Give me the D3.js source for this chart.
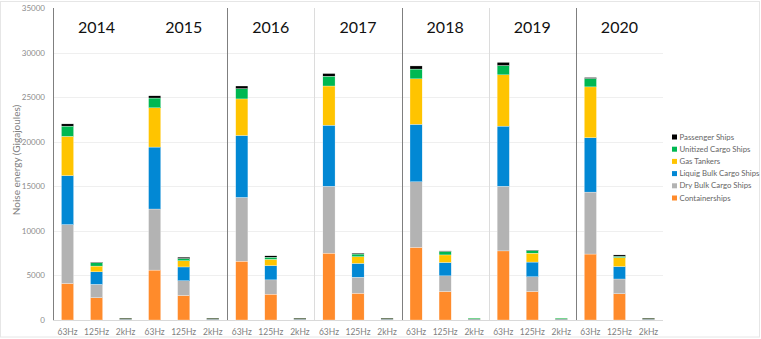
<!DOCTYPE html>
<html lang="en">
<head>
<meta charset="UTF-8">
<title>Noise energy by ship type</title>
<script src="https://d3js.org/d3.v7.min.js"></script>
<style>
  body { margin: 0; background: #fff; }
  svg { display: block; font-family: Lato, "Open Sans", sans-serif; }
</style>
</head>
<body>
<svg width="761" height="339"></svg>
<script>
// data (Gigajoules)
const years = ["2014", "2015", "2016", "2017", "2018", "2019", "2020"];
const bands = ["63Hz", "125Hz", "2kHz"];
const series = ["Containerships", "Dry Bulk Cargo Ships", "Liquig Bulk Cargo Ships", "Gas Tankers", "Unitized Cargo Ships", "Passenger Ships"];
const colors = ["#ff8b2b", "#b3b3b3", "#0288d4", "#ffc400", "#00b852", "#000000"];

// one value per year for each band, order as in `years`
const containerships = {
  "63Hz":  [4100, 5600, 6600, 7500, 8150, 7750, 7400],
  "125Hz": [2500, 2750, 2900, 3000, 3200, 3200, 2950],
  "2kHz":  [40, 40, 40, 40, 40, 40, 40]
};
const dryBulk = {
  "63Hz":  [6600, 6850, 7150, 7500, 7350, 7250, 6950],
  "125Hz": [1500, 1650, 1600, 1800, 1750, 1650, 1650],
  "2kHz":  [40, 40, 40, 40, 40, 40, 40]
};
const liquidBulk = {
  "63Hz":  [5500, 6950, 6950, 6850, 6450, 6750, 6100],
  "125Hz": [1400, 1550, 1600, 1550, 1500, 1650, 1400],
  "2kHz":  [30, 30, 30, 30, 30, 30, 30]
};
const gasTankers = {
  "63Hz":  [4400, 4400, 4100, 4400, 5100, 5750, 5700],
  "125Hz": [650, 700, 700, 750, 850, 1000, 1000],
  "2kHz":  [20, 20, 20, 20, 20, 20, 20]
};
const unitized = {
  "63Hz":  [1150, 1100, 1150, 1100, 1100, 1050, 950],
  "125Hz": [380, 250, 250, 300, 400, 300, 150],
  "2kHz":  [20, 20, 20, 20, 60, 60, 20]
};
const passenger = {
  "63Hz":  [250, 250, 300, 300, 350, 350, 100],
  "125Hz": [50, 150, 150, 100, 50, 50, 150],
  "2kHz":  [50, 50, 50, 50, 0, 0, 50]
};
const yTicks = [0, 5000, 10000, 15000, 20000, 25000, 30000, 35000];

const seriesData = [containerships, dryBulk, liquidBulk, gasTankers, unitized, passenger];

// flat table: one row per year/band
const rows = [];
years.forEach((yr, i) => {
  bands.forEach(b => {
    const r = { key: yr + "-" + b, year: yr, band: b };
    series.forEach((s, k) => { r[s] = seriesData[k][b][i]; });
    rows.push(r);
  });
});

const svg = d3.select("svg");
const plotL = 53, plotR = 663, plotT = 8, plotB = 320;

const x = d3.scaleBand().domain(rows.map(d => d.key)).range([plotL, plotR])
  .paddingInner(0.58).paddingOuter(0.29);
const xYear = d3.scaleBand().domain(years).range([plotL, plotR]);
const y = d3.scaleLinear().domain([0, 35000]).range([plotB, plotT]);

// chart frame
svg.append("rect")
  .attr("x", 0.5).attr("y", 1.5).attr("width", 759).attr("height", 335.5)
  .attr("fill", "none").attr("stroke", "#e6e6e6");

// gridlines
svg.append("g").selectAll("line")
  .data(yTicks.filter(t => t > 0 && t < 35000))
  .join("line")
  .attr("x1", plotL).attr("x2", plotR)
  .attr("y1", d => Math.round(y(d)) + 0.5).attr("y2", d => Math.round(y(d)) + 0.5)
  .attr("stroke", "#efefef");

svg.append("line")
  .attr("x1", plotL).attr("x2", plotR)
  .attr("y1", y(0) + 0.5).attr("y2", y(0) + 0.5)
  .attr("stroke", "#d9d9d9");

// y tick labels
svg.append("g").selectAll("text")
  .data(yTicks)
  .join("text")
  .attr("x", 45).attr("y", d => y(d) + 3)
  .attr("text-anchor", "end")
  .attr("font-size", 8)
  .attr("fill", "#8c8c8c")
  .text(d => d);

// year separators: darker between pairs, lighter inside
const seps = years.slice(1).map((yr, i) => ({ x: xYear(yr), dark: i % 2 === 1 }))
  .filter(d => d.x > plotL + xYear.step());
svg.append("g").selectAll("line")
  .data(seps)
  .join("line")
  .attr("x1", d => Math.round(d.x) + 0.5).attr("x2", d => Math.round(d.x) + 0.5)
  .attr("y1", plotT).attr("y2", plotB)
  .attr("stroke", d => d.dark ? "#7f7f7f" : "#dcdcdc");
svg.append("line")
  .attr("x1", plotL + 0.5).attr("x2", plotL + 0.5)
  .attr("y1", plotT).attr("y2", plotB)
  .attr("stroke", "#7f7f7f");

// stacked bars
const stack = d3.stack().keys(series);
const layers = stack(rows);
svg.append("g").selectAll("g")
  .data(layers)
  .join("g")
  .attr("fill", (d, i) => colors[i])
  .selectAll("rect")
  .data(d => d)
  .join("rect")
  .attr("x", d => x(d.data.key))
  .attr("width", x.bandwidth())
  .attr("y", d => y(d[1]))
  .attr("height", d => Math.max(0, y(d[0]) - y(d[1])))
  .attr("stroke", d => d.data.band === "2kHz" ? "none" : "#fff")
  .attr("stroke-width", 0.3);

// x labels
svg.append("g").selectAll("text")
  .data(rows)
  .join("text")
  .attr("x", d => x(d.key) + x.bandwidth() / 2)
  .attr("y", 335)
  .attr("text-anchor", "middle")
  .attr("font-size", 8.5)
  .attr("fill", "#7f7f7f")
  .text(d => d.band);

// year titles
svg.append("g").selectAll("text")
  .data(years)
  .join("text")
  .attr("x", d => xYear(d) + xYear.bandwidth() / 2)
  .attr("y", 33)
  .attr("text-anchor", "middle")
  .attr("font-size", 16)
  .attr("fill", "#111")
  .text(d => d);

// y axis title
svg.append("text")
  .attr("transform", "translate(20,160) rotate(-90)")
  .attr("text-anchor", "middle")
  .attr("font-size", 10)
  .attr("fill", "#7f7f7f")
  .text("Noise energy (Gigajoules)");

// legend, top entry = last series
const legend = svg.append("g").selectAll("g")
  .data(series.slice().reverse())
  .join("g")
  .attr("transform", (d, i) => `translate(672,${139 + i * 12.2})`);
legend.append("rect")
  .attr("x", 0).attr("y", -4.5).attr("width", 5).attr("height", 5)
  .attr("fill", d => colors[series.indexOf(d)]);
legend.append("text")
  .attr("x", 7.5).attr("y", 0.5)
  .attr("font-size", 7.8)
  .attr("fill", "#666")
  .text(d => d);
</script>
</body>
</html>
